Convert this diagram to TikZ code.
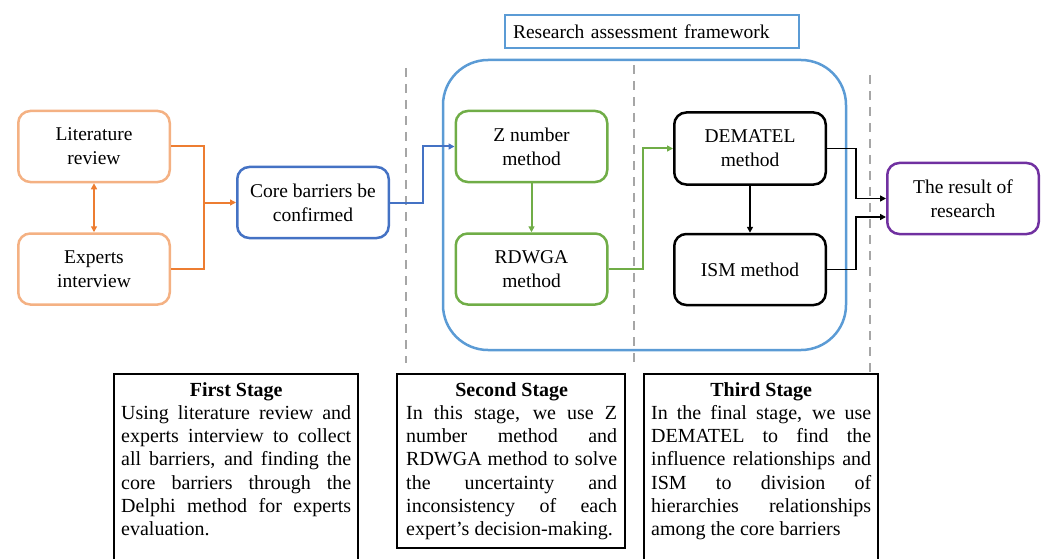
\documentclass[tikz,border=0pt]{standalone}
\usepackage{fontspec}
\setmainfont{Liberation Serif}
\newfontfamily\tnrfont{Liberation Serif}
\usetikzlibrary{arrows.meta}
\definecolor{orgbox}{HTML}{F4B183}
\definecolor{orgline}{HTML}{ED7D31}
\definecolor{corebl}{HTML}{4472C4}
\definecolor{ltbl}{HTML}{5B9BD5}
\definecolor{grn}{HTML}{70AD47}
\definecolor{purp}{HTML}{7030A0}
\definecolor{dashgray}{HTML}{A6A6A6}
\hyphenpenalty=10000
\exhyphenpenalty=10000
\begin{document}
\begin{tikzpicture}[x=1pt,y=-1pt,
  box/.style={draw, rounded corners=12pt, line width=2.5pt, minimum width=151.5pt,
    minimum height=71pt, align=center, inner sep=0pt,
    font=\tnrfont\fontsize{19.5}{24}\selectfont},
  conn/.style={line width=2pt},
  tip/.style={-{Triangle[length=6pt,width=6pt]}},
  dashline/.style={dashgray, line width=2.2pt, dash pattern=on 9pt off 7pt},
  stagebox/.style={draw, line width=1.5pt},
  stagetext/.style={anchor=north west, inner sep=0pt, align=justify,
    font=\tnrfont\fontsize{20}{23.3}\selectfont}
]
\useasboundingbox (0,0) rectangle (1047,559);

% dashed separators
\draw[dashline] (406,68) -- (406,363);
\draw[dashline] (634,65) -- (634,368);
\draw[dashline] (870,75) -- (870,372);

% framework container
\draw[ltbl, line width=2.5pt, rounded corners=45pt] (443,60) rectangle (846,350);
\node[draw=ltbl, line width=2pt, text width=278pt, align=left, inner xsep=8pt,
  inner ysep=0pt, minimum height=33pt, font=\tnrfont\fontsize{19.5}{24}\selectfont]
  (title) at (652,32) {Research assessment framework};

% boxes
\node[box, draw=orgbox] (lit) at (94,146.5) {Literature\\review};
\node[box, draw=orgbox] (exp) at (94,269) {Experts\\interview};
\node[box, draw=corebl] (core) at (313,202.5) {Core barriers be\\confirmed};
\node[box, draw=grn] (z) at (531.5,146.5) {Z number\\method};
\node[box, draw=grn] (rd) at (531.5,269) {RDWGA\\method};
\node[box, draw=black, minimum height=72pt] (dem) at (750,148.5) {DEMATEL\\method};
\node[box, draw=black] (ism) at (750,269.5) {ISM method};
\node[box, draw=purp] (res) at (963,198.5) {The result of\\research};

% orange connectors
\coordinate (oj) at (204,202.5);
\draw[conn, orgline, {Triangle[length=6pt,width=6pt]}-{Triangle[length=6pt,width=6pt]}] (lit) -- (exp);
\draw[conn, orgline] (lit.east) -| (oj);
\draw[conn, orgline] (exp.east) -| (oj);
\draw[conn, orgline, tip] (oj) -- (core.west);

% blue connector
\draw[conn, corebl, tip] (core.east) -- ++(33,0) |- (z.west);

% green connectors
\draw[conn, grn, tip] (z) -- (rd);
\draw[conn, grn, tip] (rd.east) -- ++(34,0) |- (dem.west);

% black connectors
\draw[line width=1.6pt, tip] (dem) -- (ism);
\draw[line width=1.6pt, tip] (dem.east) -- ++(29,0) |- (res.west);
\draw[line width=1.6pt, tip] (ism.east) -- ++(29,0) |- ([yshift=-18.5pt]res.west);

% stage boxes
\draw[stagebox] (114,374) rectangle (358,580);
\draw[stagebox] (397,374) rectangle (625,548);
\draw[stagebox] (644,374) rectangle (878,580);

\node[stagetext, text width=230pt] (s1) at (121,382) {{\centering\bfseries First Stage\par}\noindent
Using literature review and\linebreak experts interview to collect\linebreak all barriers, and finding the\linebreak core barriers through the\linebreak Delphi method for experts\linebreak evaluation.};
\node[stagetext, text width=211pt] (s2) at (406,382) {{\centering\bfseries Second Stage\par}\noindent
In this stage, we use Z\linebreak number method and\linebreak RDWGA method to solve\linebreak the uncertainty and\linebreak inconsistency of each\linebreak expert’s decision-making.};
\node[stagetext, text width=220pt] (s3) at (651,382) {{\centering\bfseries Third Stage\par}\noindent
In the final stage, we use\linebreak DEMATEL to find the\linebreak influence relationships and\linebreak ISM to division of\linebreak hierarchies relationships\linebreak among the core barriers};
\end{tikzpicture}
\end{document}
